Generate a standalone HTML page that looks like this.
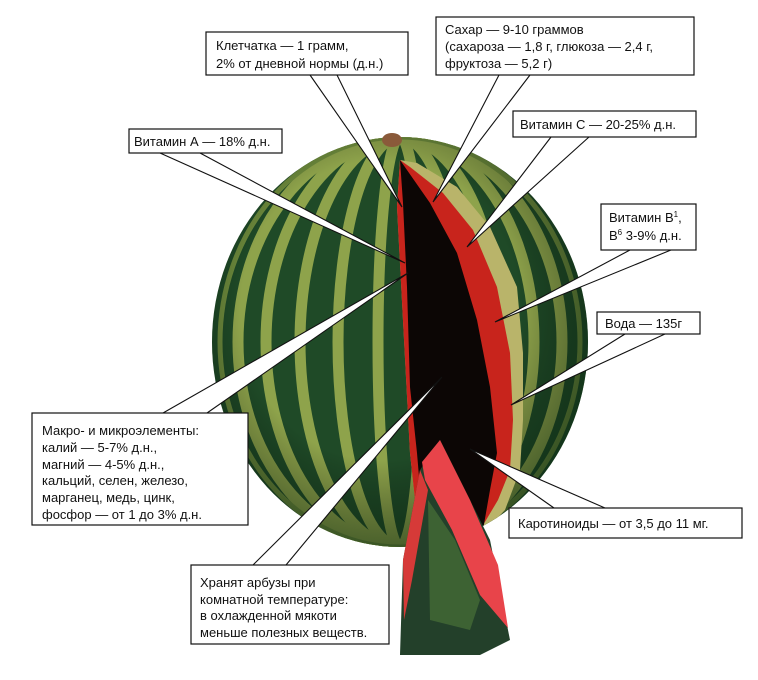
<!DOCTYPE html>
<html><head><meta charset="utf-8"><style>
html,body{margin:0;padding:0;background:#fff;}
body{width:758px;height:680px;overflow:hidden;position:relative;}
svg{position:absolute;left:0;top:0;}
text{font-family:"Liberation Sans",sans-serif;font-size:13px;fill:#111;}
</style></head><body>
<svg width="758" height="680" viewBox="0 0 758 680" xmlns="http://www.w3.org/2000/svg">
<defs>
<clipPath id="mel"><ellipse cx="400" cy="342" rx="188" ry="205"/></clipPath>
<radialGradient id="shade" cx="0.45" cy="0.42" r="0.58">
<stop offset="0.6" stop-color="#000" stop-opacity="0"/>
<stop offset="1" stop-color="#0c2a12" stop-opacity="0.6"/>
</radialGradient>
</defs>
<g clip-path="url(#mel)">
<rect x="200" y="130" width="400" height="430" fill="#1f4a27"/>
<g fill="none" stroke="#8ea34b" stroke-width="11">
<ellipse cx="400" cy="342" rx="22" ry="205"/>
<ellipse cx="400" cy="342" rx="62" ry="205"/>
<ellipse cx="400" cy="342" rx="100" ry="205"/>
<ellipse cx="400" cy="342" rx="134" ry="205"/>
<ellipse cx="400" cy="342" rx="162" ry="205"/>
</g>
<g fill="none" stroke="#6d8a3c" stroke-width="5">
<ellipse cx="400" cy="342" rx="180" ry="205"/>
</g>
<rect x="200" y="130" width="400" height="430" fill="url(#shade)"/>
<path d="M417,163 L457,187 L490,227 L517,287 L523,353 L523,420 L520,470 L505,510 L470,547 L420,547 L410,453 L397,207 L400,160 Z" fill="#b9b46a"/>
<path d="M410,167 L443,193 L473,230 L497,287 L510,353 L513,420 L510,470 L498,500 L470,547 L420,547 L410,453 L397,207 L400,160 Z" fill="#c8241c"/>
<path d="M400,160 L430,203 L457,253 L477,320 L490,387 L497,453 L490,490 L480,547 L425,547 L417,453 L410,387 L407,287 L403,203 Z" fill="#0c0605"/>
</g>
<ellipse cx="392" cy="140" rx="10" ry="7" fill="#8a5a3a"/>
<path d="M440,440 L490,540 L510,640 L480,655 L400,655 L403,560 L420,470 Z" fill="#23402a"/>
<path d="M440,440 L470,500 L498,565 L508,628 L480,595 L452,530 L425,480 L422,462 Z" fill="#e8444a"/>
<path d="M420,470 L428,490 L412,580 L404,620 L403,560 Z" fill="#d63a38"/>
<path d="M428,500 L455,540 L480,600 L470,630 L430,620 Z" fill="#4e7a3a" opacity="0.6"/>
<g stroke="#111" stroke-width="1.1" fill="#fff">
<path d="M310,75 L402,207 L337,75"/>
<path d="M499,75 L433,202 L530,75"/>
<path d="M160,153 L405,263 L200,153"/>
<path d="M551,137 L467,247 L589,137"/>
<path d="M630,250 L495,322 L671,250"/>
<path d="M625,334 L511,405 L665,334"/>
<path d="M163,413 L408,273 L207,413"/>
<path d="M554,508 L470,449 L605,508"/>
<path d="M253,565 L442,377 L286,565"/>
</g>
<g fill="#fff" stroke="#111" stroke-width="1.2">
<rect x="206" y="32" width="202" height="43"/>
<rect x="436" y="17" width="258" height="58"/>
<rect x="129" y="129" width="153" height="24"/>
<rect x="513" y="111" width="183" height="26"/>
<rect x="601" y="204" width="95" height="46"/>
<rect x="597" y="312" width="103" height="22"/>
<rect x="32" y="413" width="216" height="112"/>
<rect x="509" y="508" width="233" height="30"/>
<rect x="191" y="565" width="198" height="79"/>
</g>
<text x="216" y="50">Клетчатка — 1 грамм,</text>
<text x="216" y="68">2% от дневной нормы (д.н.)</text>
<text x="445" y="34">Сахар — 9-10 граммов</text>
<text x="445" y="51">(сахароза — 1,8 г, глюкоза — 2,4 г,</text>
<text x="445" y="68">фруктоза — 5,2 г)</text>
<text x="134" y="146">Витамин А — 18% д.н.</text>
<text x="520" y="129">Витамин С — 20-25% д.н.</text>
<text x="609" y="222">Витамин В<tspan font-size="8" dy="-5">1</tspan><tspan dy="5">,</tspan></text>
<text x="609" y="240">В<tspan font-size="8" dy="-5">6</tspan><tspan dy="5"> 3-9% д.н.</tspan></text>
<text x="605" y="328">Вода — 135г</text>
<text x="42" y="435">Макро- и микроэлементы:</text>
<text x="42" y="452">калий — 5-7% д.н.,</text>
<text x="42" y="469">магний — 4-5% д.н.,</text>
<text x="42" y="485">кальций, селен, железо,</text>
<text x="42" y="502">марганец, медь, цинк,</text>
<text x="42" y="519">фосфор — от 1 до 3% д.н.</text>
<text x="518" y="528">Каротиноиды — от 3,5 до 11 мг.</text>
<text x="200" y="587">Хранят арбузы при</text>
<text x="200" y="604">комнатной температуре:</text>
<text x="200" y="620">в охлажденной мякоти</text>
<text x="200" y="637">меньше полезных веществ.</text>
</svg>
</body></html>
